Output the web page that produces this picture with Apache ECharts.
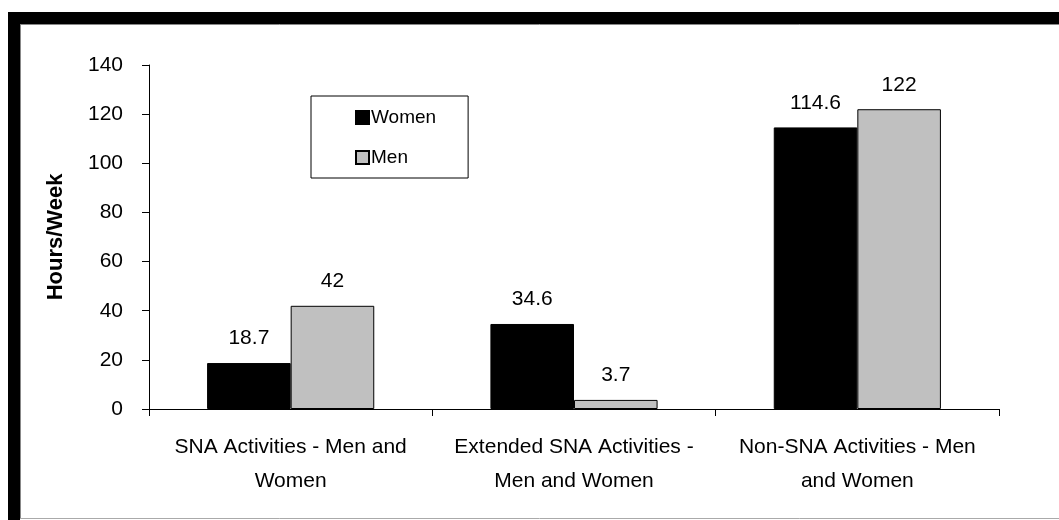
<!DOCTYPE html>
<html>
<head>
<meta charset="utf-8">
<script src="https://cdn.jsdelivr.net/npm/echarts@6/dist/echarts.min.js"></script>
<style>
  html, body { margin: 0; padding: 0; background: #fff; }
  #chart { width: 1059px; height: 520px; }
</style>
</head>
<body>
<div id="chart"></div>
<script>
// Weekly hours by activity group
const categories = [
  'SNA Activities - Men and\nWomen',
  'Extended SNA Activities -\nMen and Women',
  'Non-SNA Activities - Men\nand Women'
];
const women = [18.7, 34.6, 114.6];
const men = [42, 3.7, 122];
const yTicks = { min: 0, max: 140, interval: 20 };

const FONT = '"Liberation Sans", Arial, sans-serif';

const chart = echarts.init(document.getElementById('chart'), null, { renderer: 'canvas' });

const labelStyle = {
  show: true,
  position: 'top',
  distance: 14,
  color: '#000',
  fontFamily: FONT,
  fontSize: 21
};

chart.setOption({
  backgroundColor: '#fff',
  animation: false,
  graphic: [
    // outer frame: heavy black top and left edges, thin grey inner edges
    { type: 'rect', shape: { x: 8, y: 12, width: 1051, height: 12 }, style: { fill: '#000' }, z: 100 },
    { type: 'rect', shape: { x: 8, y: 12, width: 12, height: 508 }, style: { fill: '#000' }, z: 100 },
    { type: 'line', shape: { x1: 20, y1: 24.5, x2: 1059, y2: 24.5 }, style: { stroke: '#888', lineWidth: 1 }, z: 100 },
    { type: 'line', shape: { x1: 20.5, y1: 24, x2: 20.5, y2: 518 }, style: { stroke: '#888', lineWidth: 1 }, z: 100 },
    { type: 'line', shape: { x1: 20, y1: 518.5, x2: 1059, y2: 518.5 }, style: { stroke: '#aaa', lineWidth: 1 }, z: 100 }
  ],
  legend: {
    data: ['Women', 'Men'],
    orient: 'vertical',
    left: 311,
    top: 96,
    padding: [12, 32, 11, 44],
    itemGap: 21,
    itemWidth: 13,
    itemHeight: 13,
    icon: 'rect',
    borderColor: '#000',
    borderWidth: 1,
    backgroundColor: '#fff',
    textStyle: { color: '#000', fontFamily: FONT, fontSize: 19, padding: [0, 0, 0, -3] }
  },
  grid: { left: 149, right: 60, top: 65, bottom: 111, containLabel: false },
  xAxis: {
    type: 'category',
    data: categories,
    axisLine: { lineStyle: { color: '#000', width: 1 } },
    axisTick: { show: true, inside: false, length: 7, lineStyle: { color: '#000' } },
    axisLabel: {
      color: '#000',
      fontFamily: FONT,
      fontSize: 21,
      lineHeight: 34,
      margin: 21,
      interval: 0
    }
  },
  yAxis: {
    type: 'value',
    min: yTicks.min,
    max: yTicks.max,
    interval: yTicks.interval,
    name: 'Hours/Week',
    nameLocation: 'middle',
    nameRotate: 90,
    nameGap: 82,
    nameTextStyle: { color: '#000', fontFamily: FONT, fontSize: 22, fontWeight: 'bold' },
    axisLine: { show: true, lineStyle: { color: '#000', width: 1 } },
    axisTick: { show: true, inside: false, length: 7, lineStyle: { color: '#000' } },
    splitLine: { show: false },
    axisLabel: { color: '#000', fontFamily: FONT, fontSize: 21, margin: 26 }
  },
  series: [
    {
      name: 'Women',
      type: 'bar',
      data: women,
      barGap: '0%',
      barCategoryGap: '41%',
      itemStyle: { color: '#000', borderColor: '#000', borderWidth: 1 },
      label: labelStyle
    },
    {
      name: 'Men',
      type: 'bar',
      data: men,
      itemStyle: { color: '#c0c0c0', borderColor: '#000', borderWidth: 1 },
      label: labelStyle
    }
  ]
});
</script>
</body>
</html>
